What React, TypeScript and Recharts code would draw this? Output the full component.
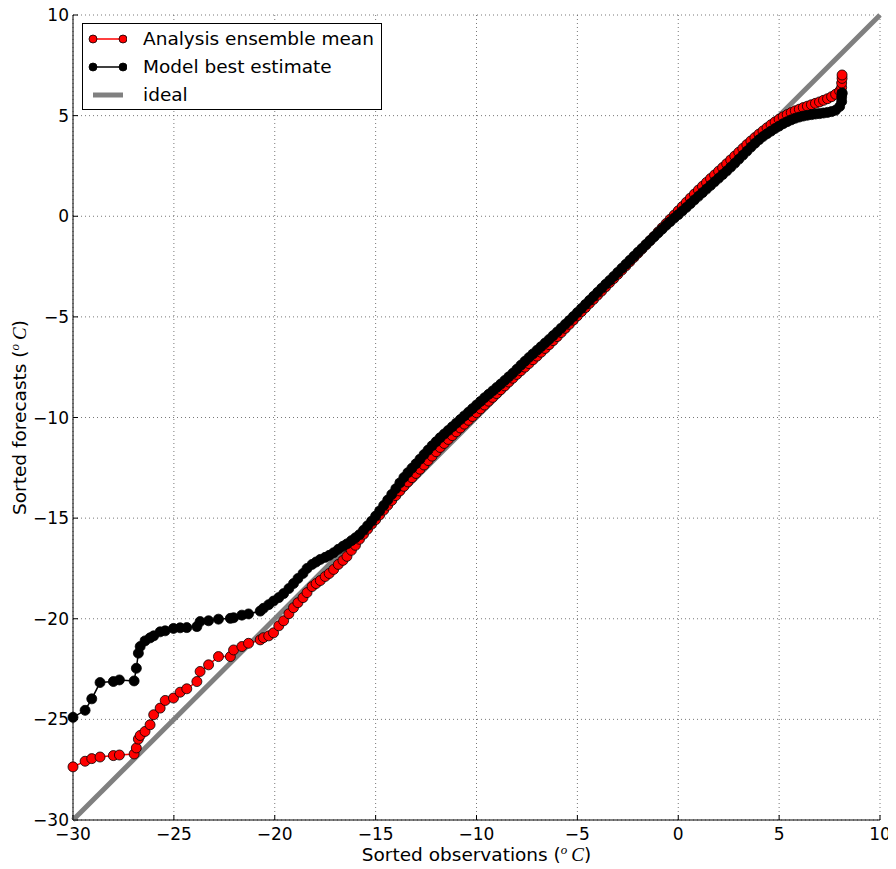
import React from 'react';
import {
  ScatterChart,
  Scatter,
  XAxis,
  YAxis,
  CartesianGrid,
  Legend,
} from 'recharts';

// Sorted observations (shared x positions of both quantile curves)
const observations: number[] = [
  -30.0, -29.4, -29.07, -28.66, -28.0, -27.7, -26.97, -26.86, -26.76, -26.67,
  -26.43, -26.18, -26.0, -25.68, -25.43, -25.02, -24.69, -24.36, -23.86, -23.7,
  -23.28, -22.79, -22.2, -22.04, -21.63, -21.3, -20.72, -20.56, -20.3, -20.06,
  -19.8, -19.56, -19.3, -19.07, -18.85, -18.6, -18.4, -18.15, -17.95, -17.74,
  -17.5, -17.3, -17.08, -16.85, -16.62, -16.42, -16.2, -16.0, -15.8,
  -15.6, -15.4, -15.2, -15.0, -14.8, -14.6, -14.4, -14.2, -14.0, -13.8,
  -13.6, -13.4, -13.2, -13.0, -12.8, -12.6, -12.4, -12.2, -12.0, -11.8,
  -11.6, -11.4, -11.2, -11.0, -10.8, -10.6, -10.4, -10.2, -10.0, -9.8,
  -9.6, -9.4, -9.2, -9.0, -8.8, -8.6, -8.4, -8.2, -8.0, -7.8,
  -7.6, -7.4, -7.2, -7.0, -6.8, -6.6, -6.4, -6.2, -6.0, -5.8,
  -5.6, -5.4, -5.2, -5.0, -4.8, -4.6, -4.4, -4.2, -4.0, -3.8,
  -3.6, -3.4, -3.2, -3.0, -2.8, -2.6, -2.4, -2.2, -2.0, -1.8,
  -1.6, -1.4, -1.2, -1.0, -0.8, -0.6, -0.4, -0.2, 0.0, 0.2,
  0.4, 0.6, 0.8, 1.0, 1.2, 1.4, 1.6, 1.8, 2.0, 2.2,
  2.4, 2.6, 2.8, 3.0, 3.2, 3.4, 3.6, 3.8, 4.0, 4.2,
  4.4, 4.6, 4.8, 5.0, 5.2, 5.4, 5.6, 5.8, 6.0, 6.2,
  6.4, 6.6, 6.8, 7.0, 7.2, 7.4, 7.6, 7.8, 8.0, 8.1,
  8.1, 8.12, 8.12,
];

// Sorted analysis ensemble mean forecasts
const ensembleMean: number[] = [
  -27.36, -27.08, -26.95, -26.87, -26.8, -26.77, -26.72, -26.42, -25.98, -25.8,
  -25.6, -25.27, -24.77, -24.44, -24.06, -23.94, -23.65, -23.48, -23.12, -22.62,
  -22.29, -21.88, -21.88, -21.55, -21.38, -21.22, -21.05, -20.94, -20.85, -20.7,
  -20.35, -20.1, -19.75, -19.45, -19.2, -18.95, -18.7, -18.4, -18.25, -18.1,
  -17.9, -17.75, -17.55, -17.3, -17.1, -16.9, -16.6, -16.35, -16.05,
  -15.8, -15.55, -15.3, -15.08, -14.84, -14.6, -14.36, -14.12, -13.88, -13.65,
  -13.42, -13.2, -12.99, -12.78, -12.57, -12.36, -12.14, -11.92, -11.7, -11.49,
  -11.29, -11.09, -10.9, -10.71, -10.52, -10.33, -10.14, -9.95, -9.76, -9.57,
  -9.38, -9.19, -9.0, -8.81, -8.62, -8.43, -8.24, -8.05, -7.86, -7.68,
  -7.5, -7.32, -7.13, -6.95, -6.76, -6.57, -6.38, -6.18, -5.98, -5.78,
  -5.57, -5.37, -5.16, -4.95, -4.74, -4.54, -4.33, -4.13, -3.92, -3.72,
  -3.51, -3.3, -3.1, -2.89, -2.68, -2.47, -2.26, -2.05, -1.84, -1.63,
  -1.42, -1.21, -1.0, -0.78, -0.57, -0.36, -0.15, 0.06, 0.27, 0.48,
  0.69, 0.9, 1.1, 1.3, 1.49, 1.68, 1.87, 2.05, 2.24, 2.42,
  2.61, 2.8, 2.99, 3.18, 3.37, 3.56, 3.74, 3.91, 4.08, 4.24,
  4.4, 4.55, 4.69, 4.82, 4.94, 5.05, 5.15, 5.24, 5.32, 5.4,
  5.47, 5.54, 5.61, 5.68, 5.76, 5.84, 5.94, 6.06, 6.22, 6.4,
  6.62, 6.85, 7.02,
];

// Sorted model best estimate forecasts
const bestEstimate: number[] = [
  -24.9, -24.55, -23.98, -23.17, -23.12, -23.04, -23.09, -22.46, -21.71, -21.38,
  -21.1, -20.95, -20.85, -20.65, -20.6, -20.48, -20.45, -20.44, -20.39, -20.14,
  -20.1, -20.02, -19.98, -19.95, -19.82, -19.76, -19.62, -19.48, -19.3, -19.12,
  -18.95, -18.75, -18.5, -18.25, -18.0, -17.75, -17.5, -17.3, -17.18, -17.05,
  -16.95, -16.85, -16.72, -16.55, -16.4, -16.28, -16.12, -15.98, -15.82,
  -15.6, -15.38, -15.15, -14.9, -14.64, -14.37, -14.1, -13.82, -13.54, -13.25,
  -12.98, -12.74, -12.52, -12.3, -12.07, -11.84, -11.62, -11.4, -11.2, -11.0,
  -10.82, -10.64, -10.46, -10.28, -10.1, -9.92, -9.74, -9.56, -9.38, -9.2,
  -9.02, -8.85, -8.68, -8.51, -8.34, -8.16, -7.98, -7.8, -7.6, -7.4,
  -7.21, -7.02, -6.84, -6.66, -6.48, -6.3, -6.12, -5.93, -5.75, -5.56,
  -5.37, -5.18, -4.98, -4.78, -4.58, -4.38, -4.18, -3.98, -3.78, -3.58,
  -3.38, -3.19, -2.99, -2.79, -2.59, -2.39, -2.19, -1.99, -1.79, -1.6,
  -1.4, -1.21, -1.02, -0.83, -0.64, -0.45, -0.27, -0.09, 0.08, 0.26,
  0.44, 0.62, 0.81, 0.99, 1.17, 1.35, 1.53, 1.71, 1.89, 2.07,
  2.25, 2.44, 2.63, 2.83, 3.03, 3.23, 3.43, 3.62, 3.8, 3.96,
  4.1, 4.23, 4.36, 4.48, 4.6, 4.7, 4.79, 4.87, 4.93, 4.98,
  5.02, 5.05, 5.08, 5.1, 5.13, 5.16, 5.2, 5.27, 5.45, 5.7,
  5.92, 6.1, 6.12,
];

// Perfect-forecast reference (1:1 line)
const idealLine: number[] = [-30, 10];

const axisTicks: number[] = [-30, -25, -20, -15, -10, -5, 0, 5, 10];

const ensembleData = observations.map((x, i) => ({ x, y: ensembleMean[i] }));
const bestData = observations.map((x, i) => ({ x, y: bestEstimate[i] }));
const idealData = idealLine.map((v) => ({ x: v, y: v }));

const FONT = '"DejaVu Sans", "Bitstream Vera Sans", sans-serif';
const MATH_FONT = '"Liberation Serif", "DejaVu Serif", serif';

const fmt = (v: number) => String(v).replace('-', '\u2212');

const BottomTick = (props: any) => {
  const { x, y, payload } = props;
  return (
    <g>
      <line x1={x} y1={y} x2={x} y2={y - 5} stroke="#000" strokeWidth={1} />
      <text x={x} y={y + 20} textAnchor="middle" fontFamily={FONT} fontSize={17} fill="#000">
        {fmt(payload.value)}
      </text>
    </g>
  );
};

const LeftTick = (props: any) => {
  const { x, y, payload } = props;
  return (
    <g>
      <line x1={x} y1={y} x2={x + 5} y2={y} stroke="#000" strokeWidth={1} />
      <text x={x - 4} y={y + 6} textAnchor="end" fontFamily={FONT} fontSize={17} fill="#000">
        {fmt(payload.value)}
      </text>
    </g>
  );
};

const TopTick = (props: any) => {
  const { x, y } = props;
  return <line x1={x} y1={y} x2={x} y2={y + 5} stroke="#000" strokeWidth={1} />;
};

const RightTick = (props: any) => {
  const { x, y } = props;
  return <line x1={x} y1={y} x2={x - 5} y2={y} stroke="#000" strokeWidth={1} />;
};

const UnitSuffix = () => (
  <>
    <tspan>(</tspan>
    <tspan fontFamily={MATH_FONT} fontStyle="italic" fontSize={13} dy={-7}>o</tspan>
    <tspan fontFamily={MATH_FONT} fontStyle="italic" fontSize={19} dy={7} dx={4}>C</tspan>
    <tspan>)</tspan>
  </>
);

const XTitle = (props: any) => {
  const vb = props.viewBox || { x: 0, y: 0, width: 0, height: 0 };
  return (
    <text
      x={vb.x + vb.width / 2}
      y={vb.y + 41}
      textAnchor="middle"
      fontFamily={FONT}
      fontSize={18.5}
      fill="#000"
    >
      <tspan>Sorted observations </tspan>
      <UnitSuffix />
    </text>
  );
};

const YTitle = (props: any) => {
  const vb = props.viewBox || { x: 0, y: 0, width: 0, height: 0 };
  const cx = 18;
  const cy = vb.y + vb.height / 2;
  return (
    <text
      x={cx}
      y={cy}
      textAnchor="middle"
      transform={`rotate(-90 ${cx} ${cy})`}
      fontFamily={FONT}
      fontSize={18.5}
      fill="#000"
    >
      <tspan>Sorted forecasts </tspan>
      <UnitSuffix />
    </text>
  );
};

const legendRows = [
  { name: 'Analysis ensemble mean', kind: 'marker', color: '#ff0000' },
  { name: 'Model best estimate', kind: 'marker', color: '#000000' },
  { name: 'ideal', kind: 'bar', color: '#808080' },
];

const LegendBox = () => (
  <div
    style={{
      position: 'relative',
      width: 300,
      height: 87,
      boxSizing: 'border-box',
      border: '1px solid #000',
      background: '#fff',
      fontFamily: FONT,
      fontSize: 18.5,
      color: '#000',
    }}
  >
    {legendRows.map((row, i) => {
      const cy = 15 + i * 28;
      return (
        <React.Fragment key={row.name}>
          <svg
            width={40}
            height={14}
            style={{ position: 'absolute', left: 4, top: cy - 7 }}
          >
            {row.kind === 'marker' ? (
              <g>
                <line x1={6} y1={7} x2={36} y2={7} stroke={row.color} strokeWidth={1.5} />
                <circle cx={6} cy={7} r={4} fill={row.color} stroke="#000" strokeWidth={0.8} />
                <circle cx={36} cy={7} r={4} fill={row.color} stroke="#000" strokeWidth={0.8} />
              </g>
            ) : (
              <line x1={6} y1={7} x2={36} y2={7} stroke={row.color} strokeWidth={5} />
            )}
          </svg>
          <span
            style={{
              position: 'absolute',
              left: 60,
              top: cy - 12,
              lineHeight: '24px',
              whiteSpace: 'nowrap',
            }}
          >
            {row.name}
          </span>
        </React.Fragment>
      );
    })}
  </div>
);

const dot = (fill: string) => (props: any) => (
  <circle cx={props.cx} cy={props.cy} r={5} fill={fill} stroke="#000" strokeWidth={0.8} />
);

const noShape = () => <g />;

export default function App() {
  return (
    <ScatterChart
      width={888}
      height={861}
      margin={{ top: 7, right: 16, bottom: 0, left: 0 }}
      style={{ background: '#fff' }}
    >
      <CartesianGrid
        stroke="#555"
        strokeWidth={0.8}
        strokeDasharray="1 3"
        horizontalValues={axisTicks}
        verticalValues={axisTicks}
      />
      <XAxis
        type="number"
        dataKey="x"
        domain={[-30, 10]}
        ticks={axisTicks}
        height={49}
        stroke="#000"
        tickLine={false}
        tickSize={0}
        tickMargin={0}
        tick={BottomTick}
        interval={0}
        label={<XTitle />}
      />
      <YAxis
        type="number"
        dataKey="y"
        domain={[-30, 10]}
        ticks={axisTicks}
        width={65}
        stroke="#000"
        tickLine={false}
        tickSize={0}
        tickMargin={0}
        tick={LeftTick}
        interval={0}
        label={<YTitle />}
      />
      <XAxis
        xAxisId="top"
        orientation="top"
        type="number"
        dataKey="x"
        domain={[-30, 10]}
        ticks={axisTicks}
        height={0}
        stroke="#000"
        tickLine={false}
        tickSize={0}
        tickMargin={0}
        tick={TopTick}
        interval={0}
      />
      <YAxis
        yAxisId="right"
        orientation="right"
        type="number"
        dataKey="y"
        domain={[-30, 10]}
        ticks={axisTicks}
        width={0}
        stroke="#000"
        tickLine={false}
        tickSize={0}
        tickMargin={0}
        tick={RightTick}
        interval={0}
      />
      <Legend
        layout="horizontal"
        verticalAlign="middle"
        align="center"
        wrapperStyle={{ left: 74, top: 15, width: 300, height: 87 }}
        content={<LegendBox />}
      />
      <Scatter
        name="ideal"
        data={idealData}
        xAxisId="top"
        yAxisId="right"
        line={{ stroke: '#808080', strokeWidth: 5 }}
        shape={noShape}
        isAnimationActive={false}
      />
      <Scatter
        name="Analysis ensemble mean"
        data={ensembleData}
        line={{ stroke: '#ff0000', strokeWidth: 1.5 }}
        shape={dot('#ff0000')}
        isAnimationActive={false}
      />
      <Scatter
        name="Model best estimate"
        data={bestData}
        line={{ stroke: '#000000', strokeWidth: 1.5 }}
        shape={dot('#000000')}
        isAnimationActive={false}
      />
    </ScatterChart>
  );
}
